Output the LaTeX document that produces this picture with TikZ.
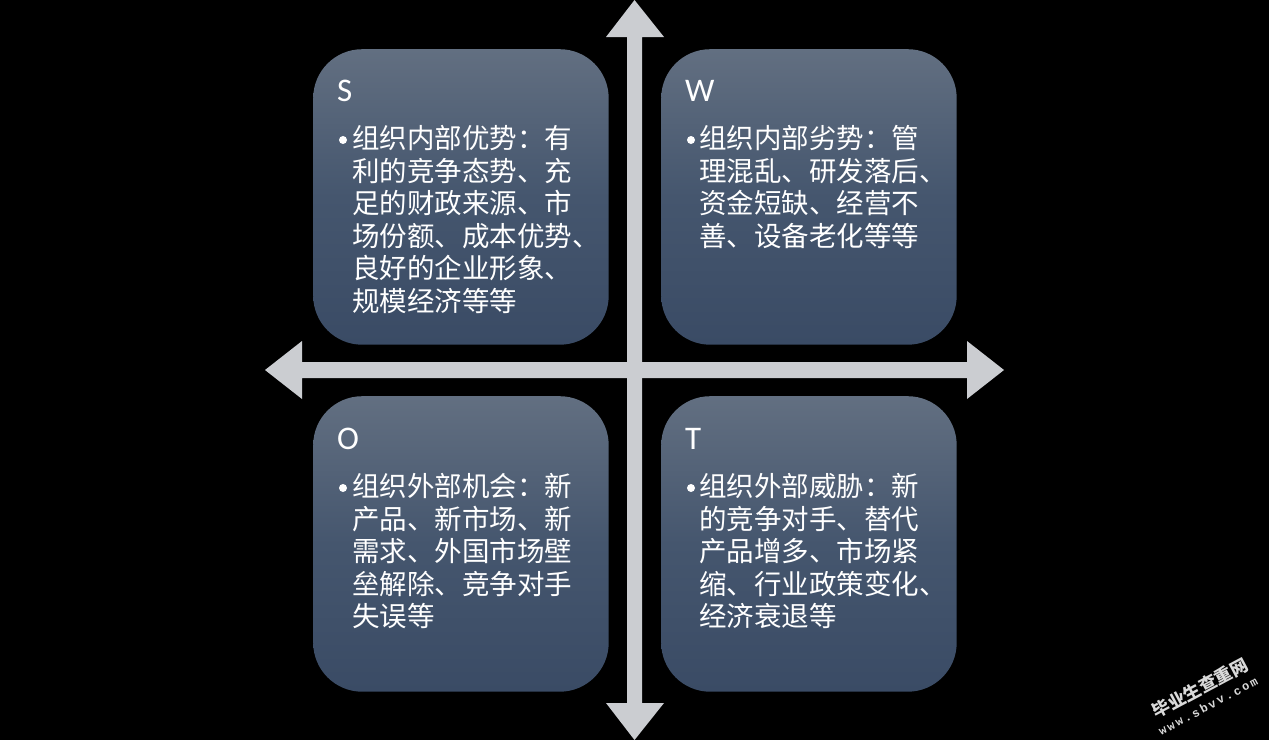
\documentclass[tikz,border=0pt]{standalone}
\usepackage{fontspec}
\setmainfont{Carlito}
\newfontfamily\cjk{Noto Sans CJK SC}
\newfontfamily\cjkw{Noto Sans CJK SC}
\newfontfamily\wmlatin[LetterSpace=18]{Liberation Mono}
\definecolor{bgblack}{RGB}{0,0,0}
\definecolor{arrowgrey}{RGB}{203,205,209}
\definecolor{boxtop}{RGB}{98,111,129}
\definecolor{boxmid}{RGB}{69,86,110}
\definecolor{boxbot}{RGB}{58,75,101}
\tikzset{
  swotbox/.style={minimum width=295.5pt,minimum height=295.5pt,inner sep=0pt,
    rounded corners=49pt,top color=boxtop,bottom color=boxbot,middle color=boxmid,anchor=north west},
  head/.style={text=white,font=\fontsize{33}{33}\selectfont,anchor=base west,inner sep=0pt},
  body/.style={text=white,font=\cjk\fontsize{27.5}{32.5}\selectfont,anchor=north west,inner sep=0pt,align=left},
  dotb/.style={circle,fill=white,minimum size=8pt,inner sep=0pt},
  wm/.style={text=white!85!black,rotate=28,inner sep=0pt}
}
\begin{document}
\begin{tikzpicture}[x=1pt,y=-1pt]
\useasboundingbox (0,0) rectangle (1269,740);
\fill[bgblack] (0,0) rectangle (1269,740);
% cross
\fill[arrowgrey] (634.5,0) -- (664,37) -- (642,37) -- (642,703) -- (664,703) -- (634.5,740) -- (606,703) -- (627,703) -- (627,37) -- (606,37) -- cycle;
\fill[arrowgrey] (265,370) -- (302,341) -- (302,362) -- (967,362) -- (967,341) -- (1004,370) -- (967,399) -- (967,378) -- (302,378) -- (302,399) -- cycle;
% boxes
\node[swotbox] (S) at (313,49) {};
\node[swotbox] (W) at (661,49) {};
\node[swotbox] (O) at (313,396) {};
\node[swotbox] (T) at (661,396) {};
% S
\node[head] (sh) at (337,101) {S};
\node[dotb] (sd) at (343,140) {};
\node[body] (sb) at (352,125.5) {组织内部优势：有\\利的竞争态势、充\\足的财政来源、市\\场份额、成本优势、\\良好的企业形象、\\规模经济等等};
% W
\node[head] (wh) at (685,101) {W};
\node[dotb] (wd) at (691,140) {};
\node[body] (wb) at (699,125.5) {组织内部劣势：管\\理混乱、研发落后、\\资金短缺、经营不\\善、设备老化等等};
% O
\node[head] (oh) at (337,449) {O};
\node[dotb] (od) at (343,488) {};
\node[body] (ob) at (352,473.5) {组织外部机会：新\\产品、新市场、新\\需求、外国市场壁\\垒解除、竞争对手\\失误等};
% T
\node[head] (th) at (685,449) {T};
\node[dotb] (td) at (691,488) {};
\node[body] (tb) at (699,473.5) {组织外部威胁：新\\的竞争对手、替代\\产品增多、市场紧\\缩、行业政策变化、\\经济衰退等};
% watermark
\node[wm,font=\cjkw\bfseries\fontsize{17.5}{17.5}\selectfont] (wm1) at (1200,688) {毕业生查重网};
\node[wm,font=\wmlatin\bfseries\fontsize{12}{12}\selectfont] (wm2) at (1208,706) {www.sbvv.com};
\end{tikzpicture}
\end{document}
